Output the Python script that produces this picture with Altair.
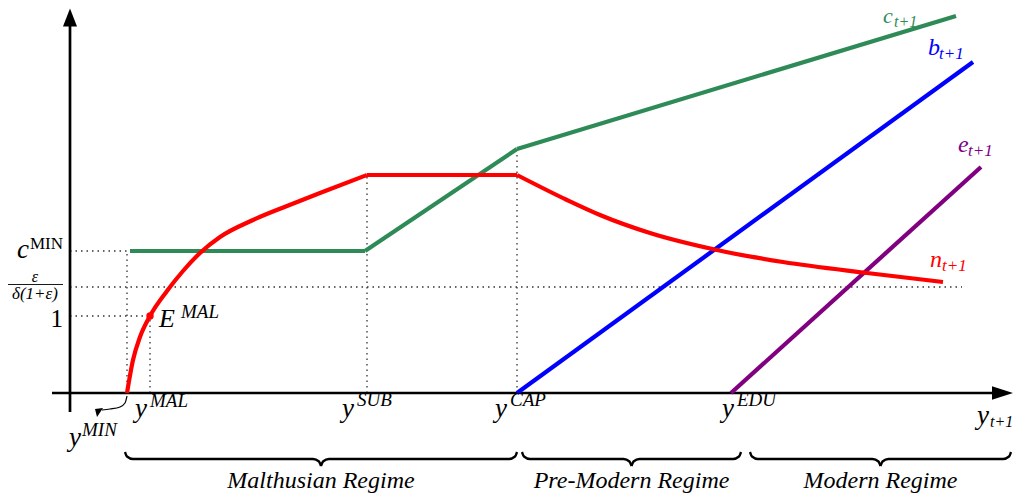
import altair as alt
import pandas as pd

# ---------------- data (diagram units: x = income, y = level) ----------------
c_x = [60, 295, 447, 886]
c_y = [142, 142, 244, 377]
b_x = [447, 903]
b_y = [0, 331]
e_x = [661, 911]
e_y = [0, 226]
n_rise_x = [57, 63, 70, 80, 97, 113, 130, 150, 183, 217, 250, 297]
n_rise_y = [0, 33, 56, 77, 102, 122, 140, 156, 173, 187, 200, 218]
n_flat_x = [297, 447]
n_flat_y = [218, 218]
n_fall_x = [447, 497, 530, 580, 647, 713, 797, 873]
n_fall_y = [218, 193, 178, 160, 143, 131, 120, 111]

# key thresholds
y_min, y_mal, y_sub, y_cap, y_edu = 57, 80, 297, 447, 661
c_min, n_bar, one = 142, 106, 77
x_end = 892

regimes = ["Malthusian Regime", "Pre-Modern Regime", "Modern Regime"]
regime_start = [55, 452, 680]
regime_end = [447, 671, 941]

SERIF = "Liberation Serif"
GREEN, BLUE, RED, PURPLE = "#2e8b57", "#0000ff", "#ff0000", "#800080"

XD = [-62, 943]
YD = [-100, 385]


def X(f="x"):
    return alt.X(f"{f}:Q", scale=alt.Scale(domain=XD, nice=False, zero=False), axis=None)


def Y(f="y"):
    return alt.Y(f"{f}:Q", scale=alt.Scale(domain=YD, nice=False, zero=False), axis=None)


# ---------------- curves ----------------
rows = []
def add(xs, ys, seg, color):
    for i, (a, b) in enumerate(zip(xs, ys)):
        rows.append(dict(x=a, y=b, seg=seg, color=color, o=i))

for i in range(len(c_x) - 1):
    add(c_x[i:i + 2], c_y[i:i + 2], f"c{i}", GREEN)
add(b_x, b_y, "b", BLUE)
add(e_x, e_y, "e", PURPLE)
lin_df = pd.DataFrame(rows)

rows = []
add(n_rise_x, n_rise_y, "n0", RED)
add(n_flat_x, n_flat_y, "n1", RED)
add(n_fall_x, n_fall_y, "n2", RED)
red_df = pd.DataFrame(rows)

lines_lin = alt.Chart(lin_df).mark_line(strokeWidth=4.2, strokeCap="butt").encode(
    x=X(), y=Y(), detail="seg:N", order="o:Q", color=alt.Color("color:N", scale=None))
lines_red = alt.Chart(red_df).mark_line(strokeWidth=4.2, interpolate="monotone", strokeCap="butt").encode(
    x=X(), y=Y(), detail="seg:N", order="o:Q", color=alt.Color("color:N", scale=None))

# ---------------- dotted guides ----------------
guides = pd.DataFrame([
    dict(x=0, x2=y_min, y=c_min, y2=c_min),
    dict(x=0, x2=x_end, y=n_bar, y2=n_bar),
    dict(x=0, x2=y_mal, y=one, y2=one),
    dict(x=y_min, x2=y_min, y=0, y2=c_min),
    dict(x=y_mal, x2=y_mal, y=0, y2=one),
    dict(x=y_sub, x2=y_sub, y=0, y2=n_flat_y[0]),
    dict(x=y_cap, x2=y_cap, y=0, y2=c_y[2]),
])
dotted = alt.Chart(guides).mark_rule(strokeDash=[1.5, 4], strokeWidth=1.3, color="#333").encode(
    x=X(), x2="x2:Q", y=Y(), y2="y2:Q")

# ---------------- axes ----------------
axes_df = pd.DataFrame([
    dict(x=0, x2=0, y=-19, y2=370),
    dict(x=-18, x2=930, y=0, y2=0),
])
axes = alt.Chart(axes_df).mark_rule(strokeWidth=2.7, color="black").encode(
    x=X(), x2="x2:Q", y=Y(), y2="y2:Q")

up_arrow = alt.Chart(pd.DataFrame([dict(x=0, y=375.5)])).mark_point(
    shape="M0,-1L0.78,1L-0.78,1Z", size=324, filled=True, color="black", opacity=1).encode(x=X(), y=Y())
right_arrow = alt.Chart(pd.DataFrame([dict(x=932.5, y=0)])).mark_point(
    shape="M1,0L-1,-0.65L-1,0.65Z", size=441, filled=True, color="black", opacity=1).encode(x=X(), y=Y())

# y^MIN pointer
ptr_x = [57, 55, 50, 40, 32]
ptr_y = [-3, -10, -14, -16, -17]
ptr = alt.Chart(pd.DataFrame(dict(x=ptr_x, y=ptr_y, o=range(len(ptr_x))))).mark_line(
    strokeWidth=1.2, color="black", interpolate="monotone").encode(x=X(), y=Y(), order="o:Q")
ptr_head = alt.Chart(pd.DataFrame([dict(x=29, y=-18)])).mark_point(
    shape="M-0.67,-0.33L0.67,-0.5L-0.33,1Z", size=144, filled=True, color="black", opacity=1).encode(x=X(), y=Y())

# E^MAL dot
dot = alt.Chart(pd.DataFrame([dict(x=y_mal, y=one)])).mark_point(
    shape="circle", size=55, filled=True, color=RED, opacity=1).encode(x=X(), y=Y())

# ---------------- braces ----------------
rows = []
for k, (a, b) in enumerate(zip(regime_start, regime_end)):
    c = (a + b) / 2
    left = [(a, -59), (a + 2, -63.5), (a + 8, -66), (c - 8, -66), (c - 2, -68.5), (c, -73)]
    right = [(c, -73), (c + 2, -68.5), (c + 8, -66), (b - 8, -66), (b - 2, -63.5), (b, -59)]
    for h, pts in enumerate([left, right]):
        for i, (px, py) in enumerate(pts):
            rows.append(dict(x=px, y=py, seg=f"{k}-{h}", o=i))
braces = alt.Chart(pd.DataFrame(rows)).mark_line(
    strokeWidth=2.4, color="black", interpolate="monotone").encode(
    x=X(), y=Y(), detail="seg:N", order="o:Q")

# ---------------- labels ----------------
K = "black"
labels_it_left = pd.DataFrame([
    ("y", -1, -53, 27, K), ("MIN", 12, -43, 19, K),
    ("y", 65, -24, 27, K), ("MAL", 80, -14, 19, K),
    ("y", 272, -24, 27, K), ("SUB", 287, -13, 19, K),
    ("y", 425, -24, 27, K), ("CAP", 440, -13, 19, K),
    ("y", 652, -24, 27, K), ("EDU", 667, -13, 19, K),
    ("y", 907, -31, 27, K), ("t+1", 920, -34, 16, K),
    ("c", -53, 135, 27, K),
    ("E", 89, 66, 26, K), ("MAL", 111, 75, 19, K),
    ("c", 813, 370, 22, GREEN), ("t+1", 824, 366, 16, GREEN),
    ("b", 858, 338, 24, BLUE), ("t+1", 869, 334, 17, BLUE),
    ("e", 888, 241, 24, PURPLE), ("t+1", 898, 237, 17, PURPLE),
    ("n", 860, 126, 24, RED), ("t+1", 872, 122, 17, RED),
], columns=["t", "x", "y", "s", "color"])
labels_rm_left = pd.DataFrame([("MIN", -40, 144, 17, K)], columns=["t", "x", "y", "s", "color"])
labels_rm_right = pd.DataFrame([("1", -7, 66, 25, K)], columns=["t", "x", "y", "s", "color"])
labels_it_center = pd.DataFrame(
    [("ε", -35, 111, 16, K), ("δ(1+ε)", -35, 94, 17, K)] +
    [(r, (a + b) / 2, -95, 24, K) for r, a, b in zip(regimes, regime_start, regime_end)],
    columns=["t", "x", "y", "s", "color"])


def txt(df, style, align):
    return alt.Chart(df).mark_text(font=SERIF, fontStyle=style, align=align, baseline="alphabetic").encode(
        x=X(), y=Y(), text="t:N", size=alt.Size("s:Q", scale=None), color=alt.Color("color:N", scale=None))


frac_bar = alt.Chart(pd.DataFrame([dict(x=-62, x2=-7, y=108.5, y2=108.5)])).mark_rule(
    strokeWidth=0.9, color="black").encode(x=X(), x2="x2:Q", y=Y(), y2="y2:Q")

chart = alt.layer(
    dotted, axes, up_arrow, right_arrow, ptr, ptr_head, braces,
    lines_lin, lines_red, dot, frac_bar,
    txt(labels_it_left, "italic", "left"),
    txt(labels_rm_left, "normal", "left"),
    txt(labels_rm_right, "normal", "right"),
    txt(labels_it_center, "italic", "center"),
).properties(width=1005, height=485, padding=0, autosize="none").configure_view(stroke=None)

chart.save("out.html", embed_options={"renderer": "svg", "actions": False})
